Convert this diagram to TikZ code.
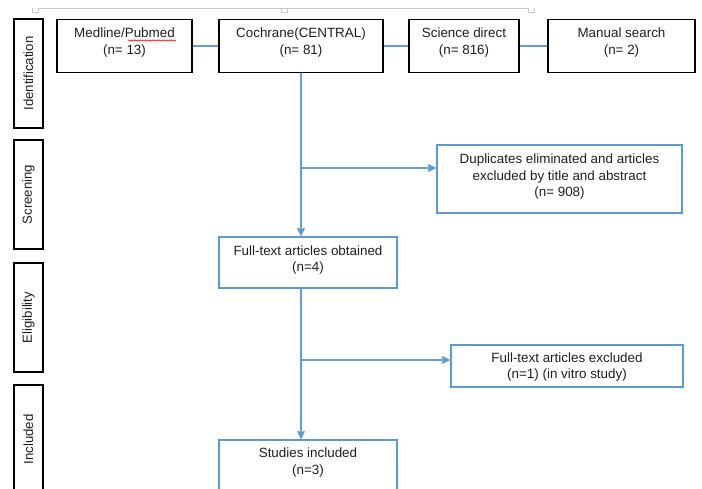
\documentclass[tikz,border=0pt]{standalone}
\usepackage{fontspec}
\setmainfont{Liberation Sans}
\usetikzlibrary{arrows.meta,decorations.pathmorphing}
\definecolor{bbox}{RGB}{91,155,213}
\definecolor{bline}{RGB}{100,158,214}
\definecolor{tick}{RGB}{200,200,200}
\begin{document}
\begin{tikzpicture}[x=1pt,y=-1pt,
  txt/.style={align=center, inner sep=0pt, text=black!88, font=\fontsize{13.4}{16.5}\selectfont},
  src/.style={draw=black, line width=1.7pt, inner sep=0pt, minimum height=53pt},
  side/.style={draw=black, line width=1.7pt, inner sep=0pt, rotate=90, minimum width=109pt, minimum height=29pt, text=black!88, font=\fontsize{13.2}{16}\selectfont},
  bluebox/.style={draw=bbox, line width=1.6pt, inner sep=0pt},
  conn/.style={draw=bline, line width=1.1pt},
  arr/.style={conn, -{Triangle[length=8pt,width=8pt,fill=bbox,line width=0.1pt]}}
]
\useasboundingbox (0,0) rectangle (702,488);
\clip (0,0) rectangle (702,488);

% top gray bracket
\draw[tick, line width=0.9pt] (38,8) -- (528,8);
\draw[tick, line width=0.9pt] (32,8) -- (32,12) -- (38,12) -- (38,8);
\draw[tick, line width=0.9pt] (281,8) -- (281,12) -- (287,12) -- (287,8);
\draw[tick, line width=0.9pt] (528,8) -- (528,12) -- (534,12) -- (534,8);

% side labels
\node[side] (ident) at (28.5,73.5) {Identification};
\node[side] (scr) at (28.5,194.5) {Screening};
\node[side] (elig) at (28.5,317.5) {Eligibility};
\node[side] (incl) at (28.5,439.5) {Included};

% source boxes
\node[src, minimum width=135pt] (med) at (124.5,46) {};
\node[txt] (medT) at (124.5,42.5) {Medline/Pubmed\\(n= 13)};
\node[src, minimum width=164pt] (coch) at (301,46) {};
\node[txt] (cochT) at (301,42.5) {Cochrane(CENTRAL)\\(n= 81)};
\node[src, minimum width=110pt] (sci) at (464,46) {};
\node[txt] (sciT) at (464,42.5) {Science direct\\(n= 816)};
\node[src, minimum width=147pt] (man) at (621.5,46) {};
\node[txt] (manT) at (621.5,42.5) {Manual search\\(n= 2)};

% spell-check underline
\draw[red!85!black, line width=0.5pt, decorate, decoration={zigzag, amplitude=0.7pt, segment length=2.4pt}] (128,40.5) -- (176,40.5);

% blue boxes
\node[bluebox, minimum width=245pt, minimum height=68pt] (dup) at (559.5,179) {};
\node[txt] (dupT) at (559.5,177) {Duplicates eliminated and articles\\excluded by title and abstract\\(n= 908)};
\node[bluebox, minimum width=178pt, minimum height=51pt] (fto) at (308,262.5) {};
\node[txt] (ftoT) at (308,260) {Full-text articles obtained\\(n=4)};
\node[bluebox, minimum width=232pt, minimum height=42pt] (fte) at (567,366) {};
\node[txt] (fteT) at (567,367) {Full-text articles excluded\\(n=1) (in vitro study)};
\node[bluebox, minimum width=178pt, minimum height=51pt] (inc) at (308,465.5) {};
\node[txt] (incT) at (308,462.5) {Studies included\\(n=3)};

% connectors
\draw[conn] (med.east) -- (coch.west);
\draw[conn] (coch.east) -- (sci.west);
\draw[conn] (sci.east) -- (man.west);

\coordinate (b1) at (301,168);
\coordinate (b2) at (301,360);
\draw[arr] (coch.south) -- (coch.south |- fto.north);
\draw[arr] (b1) -- (b1 -| dup.west);
\draw[arr] (coch.south |- fto.south) -- (coch.south |- inc.north);
\draw[arr] (b2) -- (b2 -| fte.west);
\end{tikzpicture}
\end{document}
